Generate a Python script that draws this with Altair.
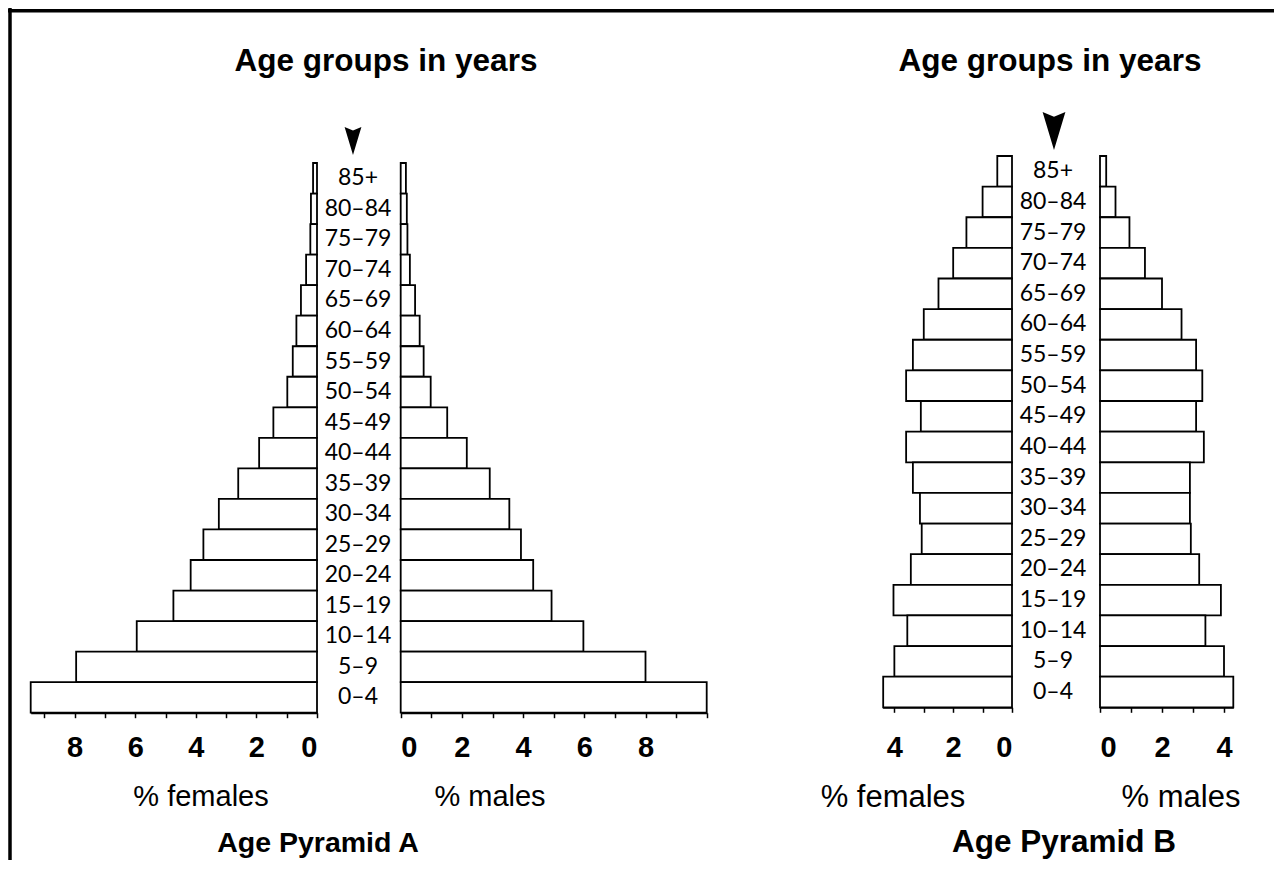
import altair as alt
import pandas as pd

# ---- data ----
ages = ["85+", "80–84", "75–79", "70–74", "65–69", "60–64", "55–59", "50–54", "45–49",
        "40–44", "35–39", "30–34", "25–29", "20–24", "15–19", "10–14", "5–9", "0–4"]
females_A = [0.13, 0.2, 0.22, 0.36, 0.53, 0.68, 0.8, 0.98, 1.44, 1.91, 2.6, 3.24, 3.75, 4.17, 4.74, 5.95, 7.95, 9.45]
males_A = [0.17, 0.2, 0.22, 0.3, 0.47, 0.62, 0.75, 0.98, 1.52, 2.16, 2.91, 3.55, 3.93, 4.33, 4.93, 5.97, 8.0, 10.0]
females_B = [0.5, 1.0, 1.55, 2.0, 2.5, 3.0, 3.37, 3.6, 3.1, 3.6, 3.37, 3.13, 3.07, 3.44, 4.03, 3.56, 4.0, 4.38]
males_B = [0.2, 0.5, 0.95, 1.45, 2.0, 2.63, 3.1, 3.3, 3.1, 3.35, 2.9, 2.9, 2.93, 3.2, 3.9, 3.4, 4.0, 4.3]

ticks_A_f = list(range(0, 10))
ticks_A_m = list(range(0, 11))
ticks_B = list(range(0, 5))

df = pd.DataFrame({"age": ages, "fA": females_A, "mA": males_A, "fB": females_B, "mB": males_B})
one = pd.DataFrame({"k": [0]})

W, H = 1266, 852
yA = [155, 704.7]
yB = [148, 699.3]

BAR = dict(fill="white", stroke="black", strokeWidth=1.8)


def axis(values, offset, pad):
    return alt.Axis(
        values=values, orient="bottom", offset=offset, title=None, grid=False,
        labelExpr="(datum.value % 2 == 0 && datum.value < 9) ? datum.label : ''",
        labelFont="Liberation Sans", labelFontWeight="bold", labelFontSize=29,
        labelColor="black", labelPadding=pad, labelOverlap=False,
        domainColor="black", domainWidth=2, tickColor="black", tickWidth=1.5, tickSize=5,
    )


def ysc(rng):
    return alt.Y("age:N", sort=ages, axis=None,
                 scale=alt.Scale(range=rng, paddingInner=0, paddingOuter=0))


def bars(field, domain, rng, yrng, values, offset, pad):
    return alt.Chart(df).mark_bar(**BAR).encode(
        x=alt.X(f"{field}:Q", scale=alt.Scale(domain=domain, range=rng, nice=False, zero=True),
                axis=axis(values, offset, pad)),
        y=ysc(yrng),
    )


fA = bars("fA", [0, 9.45], [309, 22.7], yA, ticks_A_f, -(H - 704.7), 16)
mA = bars("mA", [0, 10], [392.7, 698.7], yA, ticks_A_m, -(H - 704.7), 16)
fB = bars("fB", [0, 4.4], [1004, 874.6], yB, ticks_B, -(H - 699.3), 21)
mB = bars("mB", [0, 4.3], [1092, 1225.3], yB, ticks_B, -(H - 699.3), 21)

labA = alt.Chart(df).mark_text(font="Lato", fontSize=23, align="center", baseline="middle",
                               color="black").encode(y=ysc(yA), x=alt.value(350), text="age:N")
labB = alt.Chart(df).mark_text(font="Lato", fontSize=23, align="center", baseline="middle",
                               color="black").encode(y=ysc(yB), x=alt.value(1045), text="age:N")


def txt(s, x, y, size, bold):
    return alt.Chart(one).mark_text(
        text=s, font="Liberation Sans", fontSize=size, fontWeight="bold" if bold else "normal",
        align="center", baseline="alphabetic", color="black",
    ).encode(x=alt.value(x), y=alt.value(y))


texts = [
    txt("Age groups in years", 378, 62.5, 31.5, True),
    txt("Age groups in years", 1042, 62.7, 31.5, True),
    txt("% females", 193, 798, 29, False),
    txt("% males", 482, 798, 29, False),
    txt("Age Pyramid A", 310, 844, 28.5, True),
    txt("% females", 885, 799, 31, False),
    txt("% males", 1173, 799, 31, False),
    txt("Age Pyramid B", 1056, 844, 31.5, True),
]

arrow = "M-0.6,-1L0,-0.75L0.6,-1L0,1Z"
arrA = alt.Chart(one).mark_point(shape=arrow, filled=True, color="black", size=784, opacity=1).encode(
    x=alt.value(345), y=alt.value(133))
arrB = alt.Chart(one).mark_point(shape=arrow, filled=True, color="black", size=1444, opacity=1).encode(
    x=alt.value(1046), y=alt.value(123))

left_border = alt.Chart(one).mark_rule(color="black", strokeWidth=3.5).encode(
    x=alt.value(2), y=alt.value(0), y2=alt.value(H))
top_border = alt.Chart(one).mark_rule(color="black", strokeWidth=3.5).encode(
    x=alt.value(0), x2=alt.value(W), y=alt.value(2.8))

chart = alt.layer(
    fA, mA, fB, mB, labA, labB, arrA, arrB, left_border, top_border, *texts
).resolve_scale(x="independent", y="independent").properties(
    width=W, height=H, padding=0, autosize=alt.AutoSizeParams(type="none"),
    background="white",
).configure_view(stroke=None)

chart.save("out.html", embed_options={"renderer": "svg", "actions": False})
